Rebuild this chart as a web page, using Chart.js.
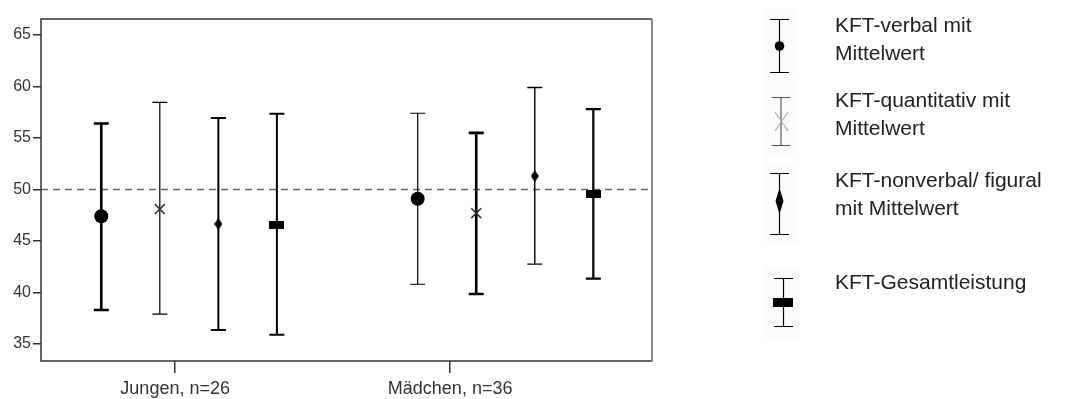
<!DOCTYPE html>
<html>
<head>
<meta charset="utf-8">
<script src="https://cdn.jsdelivr.net/npm/chart.js@4/dist/chart.umd.min.js"></script>
<style>
  html, body { margin: 0; padding: 0; background: #fff; }
  #wrap { position: relative; width: 1068px; height: 399px; }
  #legend { position: absolute; left: 835px; top: 0; font-family: "Liberation Sans", Arial, sans-serif;
            font-size: 21px; line-height: 28px; color: #222; }
  #legend div { position: absolute; left: 0; white-space: nowrap; }
</style>
</head>
<body>
<div id="wrap">
  <canvas id="myChart" width="1068" height="399"></canvas>
  <div id="legend"></div>
</div>
<script>
// categories (groups on the x axis)
var groups = ['Jungen, n=26', 'Mädchen, n=36'];

// series names (legend)
var seriesNames = ['KFT-verbal mit Mittelwert', 'KFT-quantitativ mit Mittelwert',
                   'KFT-nonverbal/ figural mit Mittelwert', 'KFT-Gesamtleistung'];
var legendLines = [['KFT-verbal mit', 'Mittelwert'], ['KFT-quantitativ mit', 'Mittelwert'],
                   ['KFT-nonverbal/ figural', 'mit Mittelwert'], ['KFT-Gesamtleistung']];

// means and error bar ends, one value per group
var meanVerbal = [47.4, 49.1];
var lowVerbal = [38.3, 40.8];
var highVerbal = [56.4, 57.4];

var meanQuant = [48.1, 47.7];
var lowQuant = [37.9, 39.85];
var highQuant = [58.45, 55.5];

var meanNonverbal = [46.65, 51.3];
var lowNonverbal = [36.35, 42.75];
var highNonverbal = [56.95, 59.9];

var meanTotal = [46.6, 49.6];
var lowTotal = [35.9, 41.35];
var highTotal = [57.35, 57.8];

// y axis tick labels and reference line
var yTicks = [35, 40, 45, 50, 55, 60, 65];
var refValue = 50;

/*********************************
 *      styles / layout          *
 ********************************/
var seriesSpacing = 0.185;          // x units between series inside a group
var groupTickShift = [-0.044, -0.175]; // tick label sits left of cluster center (as in original)
var whiskerWidths = [[2.6, 1.2], [1.2, 2.6], [2, 1.4], [2, 2.2]];

function makeMarker(w, h, shape) {
    var c = document.createElement('canvas');
    c.width = w; c.height = h;
    var ctx = c.getContext('2d');
    ctx.fillStyle = '#000';
    if (shape === 'diamond') {
        ctx.beginPath();
        ctx.moveTo(w / 2, 0); ctx.lineTo(w, h / 2); ctx.lineTo(w / 2, h); ctx.lineTo(0, h / 2);
        ctx.closePath(); ctx.fill();
    } else {
        ctx.fillRect(0, 0, w, h);
    }
    return c;
}

var lows = [lowVerbal, lowQuant, lowNonverbal, lowTotal];
var highs = [highVerbal, highQuant, highNonverbal, highTotal];
var means = [meanVerbal, meanQuant, meanNonverbal, meanTotal];

function points(s) {
    return means[s].map(function (m, g) {
        return { x: g + 1 + (s - 1.5) * seriesSpacing, y: m };
    });
}

var pointStyles = ['circle', 'crossRot', makeMarker(8, 12, 'diamond'), makeMarker(15, 8, 'rect')];
var pointRadius = [7, 7, 6, 7];

var datasets = seriesNames.map(function (name, s) {
    return {
        label: name,
        data: points(s),
        showLine: false,
        pointStyle: pointStyles[s],
        pointRadius: pointRadius[s],
        backgroundColor: '#000',
        borderColor: s === 1 ? '#333' : '#000',
        borderWidth: s === 1 ? 1.6 : 0
    };
});

// error bars + reference line + frame
var errorBars = {
    id: 'errorBars',
    beforeDatasetsDraw: function (chart) {
        var ctx = chart.ctx, area = chart.chartArea, y = chart.scales.y;
        ctx.save();
        // dashed line
        var yr = Math.round(y.getPixelForValue(refValue)) + 0.5;
        ctx.strokeStyle = '#666';
        ctx.lineWidth = 1.5;
        ctx.setLineDash([7, 5]);
        ctx.beginPath(); ctx.moveTo(area.left, yr); ctx.lineTo(area.right, yr); ctx.stroke();
        ctx.setLineDash([]);
        // whiskers
        ctx.strokeStyle = '#000';
        chart.data.datasets.forEach(function (ds, s) {
            var meta = chart.getDatasetMeta(s);
            meta.data.forEach(function (pt, g) {
                var x = pt.x;
                var yl = y.getPixelForValue(lows[s][g]);
                var yh = y.getPixelForValue(highs[s][g]);
                ctx.lineWidth = whiskerWidths[s][g];
                ctx.beginPath();
                ctx.moveTo(x, yl); ctx.lineTo(x, yh);
                ctx.moveTo(x - 7.5, yl); ctx.lineTo(x + 7.5, yl);
                ctx.moveTo(x - 7.5, yh); ctx.lineTo(x + 7.5, yh);
                ctx.stroke();
            });
        });
        ctx.restore();
    },
    afterDraw: function (chart) {
        var ctx = chart.ctx, a = chart.chartArea;
        ctx.save();
        ctx.lineWidth = 1.5;
        ctx.strokeStyle = '#333';
        ctx.beginPath();
        ctx.moveTo(a.right, a.top); ctx.lineTo(a.left, a.top); ctx.lineTo(a.left, a.bottom); ctx.lineTo(a.right, a.bottom);
        ctx.stroke();
        ctx.strokeStyle = '#888';
        ctx.lineWidth = 2;
        ctx.beginPath(); ctx.moveTo(a.right, a.top); ctx.lineTo(a.right, a.bottom + 0.7); ctx.stroke();
        drawLegendSymbols(ctx);
        ctx.restore();
    }
};

// legend symbols (drawn next to the html legend text)
function drawLegendSymbols(ctx) {
    var boxes = [[763, 8, 35, 70], [763, 80, 35, 78], [765, 162, 33, 82], [763, 266, 37, 72]];
    ctx.fillStyle = '#fcfcfc';
    boxes.forEach(function (b) { ctx.fillRect(b[0], b[1], b[2], b[3]); });

    function whisker(x, top, bot, color, lw) {
        ctx.strokeStyle = color; ctx.lineWidth = lw;
        ctx.beginPath();
        ctx.moveTo(x, top); ctx.lineTo(x, bot);
        ctx.stroke();
        ctx.strokeStyle = color === '#000' ? '#000' : '#555'; ctx.lineWidth = 1.2;
        ctx.beginPath();
        ctx.moveTo(x - 9.5, top); ctx.lineTo(x + 9.5, top);
        ctx.moveTo(x - 9.5, bot); ctx.lineTo(x + 9.5, bot);
        ctx.stroke();
    }
    // verbal
    whisker(779.5, 19.5, 72.5, '#000', 1.2);
    ctx.fillStyle = '#000';
    ctx.beginPath(); ctx.arc(779.5, 46, 4.8, 0, Math.PI * 2); ctx.fill();
    // quantitativ
    whisker(781, 97.5, 145.5, '#999', 2);
    ctx.strokeStyle = '#aaa'; ctx.lineWidth = 1.2;
    ctx.beginPath();
    ctx.moveTo(775, 112); ctx.lineTo(788, 131);
    ctx.moveTo(788, 112); ctx.lineTo(775, 131);
    ctx.stroke();
    // nonverbal
    whisker(779.5, 173.5, 234.5, '#000', 1.2);
    ctx.fillStyle = '#000';
    ctx.beginPath();
    ctx.moveTo(779.5, 188); ctx.lineTo(783.5, 201); ctx.lineTo(779.5, 214); ctx.lineTo(775.5, 201);
    ctx.closePath(); ctx.fill();
    // gesamt
    whisker(783.5, 278.5, 326.5, '#000', 1.2);
    ctx.fillStyle = '#000';
    ctx.fillRect(773, 298, 20, 9);
}

// html legend text
(function () {
    var tops = [11, 86, 166, 268];
    var legend = document.getElementById('legend');
    legendLines.forEach(function (lines, s) {
        lines.forEach(function (txt, i) {
            var d = document.createElement('div');
            d.textContent = txt;
            d.style.top = (tops[s] + i * 28) + 'px';
            legend.appendChild(d);
        });
    });
})();

var config = {
    type: 'scatter',
    data: { datasets: datasets },
    options: {
        responsive: false,
        animation: false,
        events: [],
        layout: { padding: { left: 0, top: 19, right: 416, bottom: 0 } },
        plugins: { legend: { display: false }, tooltip: { enabled: false } },
        scales: {
            x: {
                type: 'linear',
                min: 0.532,
                max: 2.463,
                afterFit: function (scale) { scale.height = 38; },
                afterBuildTicks: function (scale) {
                    scale.ticks = groups.map(function (g, i) { return { value: i + 1 + groupTickShift[i] }; });
                },
                ticks: {
                    autoSkip: false,
                    maxRotation: 0,
                    padding: 5,
                    color: '#333',
                    font: { family: 'Liberation Sans, Arial, sans-serif', size: 18 },
                    callback: function (v, i) { return groups[i]; }
                },
                grid: { drawOnChartArea: false, tickLength: 12, color: '#333', lineWidth: 1.5 },
                border: { display: false }
            },
            y: {
                type: 'linear',
                min: 33.35,
                max: 66.55,
                afterFit: function (scale) { scale.width = 41; },
                afterBuildTicks: function (scale) {
                    scale.ticks = yTicks.map(function (v) { return { value: v }; });
                },
                ticks: {
                    padding: 2,
                    color: '#333',
                    font: { family: 'Liberation Sans, Arial, sans-serif', size: 16 }
                },
                grid: { drawOnChartArea: false, tickLength: 8, color: '#333', lineWidth: 1.5 },
                border: { display: false }
            }
        }
    },
    plugins: [errorBars]
};

var myChart = new Chart(document.getElementById('myChart'), config);
</script>
</body>
</html>
